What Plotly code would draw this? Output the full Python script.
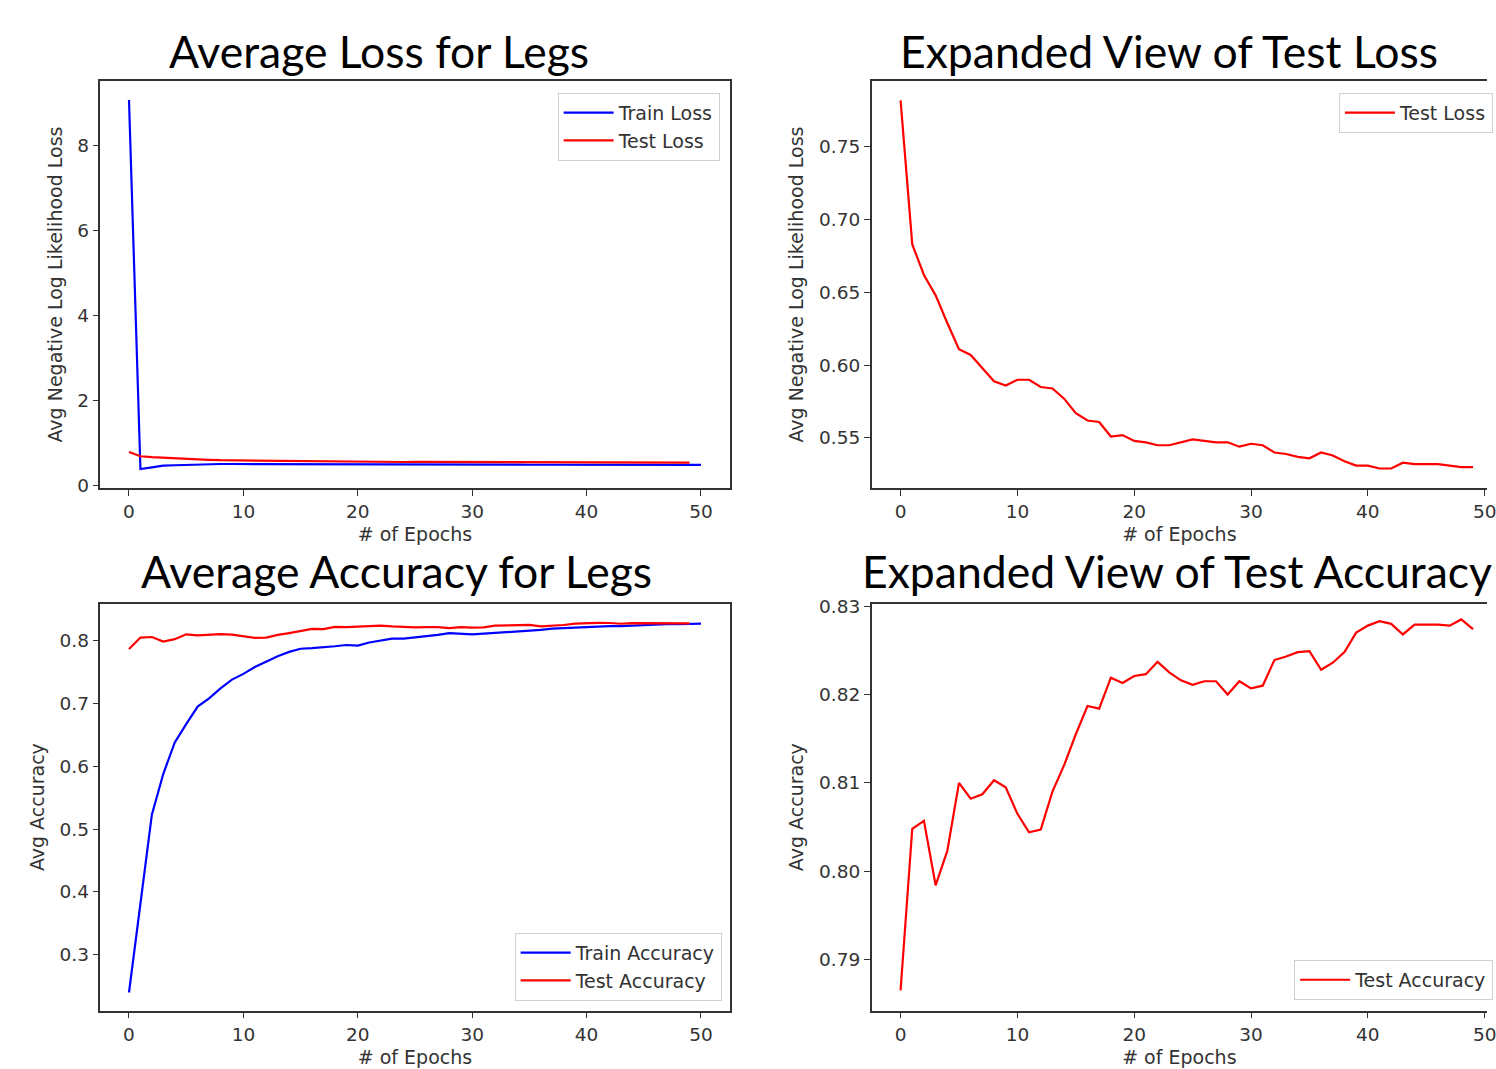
import plotly.graph_objects as go

W, H = 1496, 1069

epochs_train = list(range(51))
epochs_test = list(range(50))

train_loss = [9.08, 0.38, 0.42, 0.46, 0.47, 0.48, 0.49, 0.495, 0.50, 0.50,
              0.50, 0.50, 0.495, 0.495, 0.49, 0.49, 0.49, 0.49, 0.49, 0.49,
              0.49, 0.488, 0.488, 0.487, 0.487, 0.486, 0.486, 0.486, 0.485, 0.485,
              0.485, 0.484, 0.484, 0.483, 0.483, 0.482, 0.482, 0.481, 0.481, 0.480,
              0.480, 0.480, 0.479, 0.479, 0.479, 0.478, 0.478, 0.478, 0.477, 0.477, 0.477]

test_loss = [0.782, 0.683, 0.662, 0.648, 0.629, 0.611, 0.607, 0.598, 0.589, 0.586,
             0.590, 0.590, 0.585, 0.584, 0.577, 0.567, 0.562, 0.561, 0.551, 0.552,
             0.548, 0.547, 0.545, 0.545, 0.547, 0.549, 0.548, 0.547, 0.547, 0.544,
             0.546, 0.545, 0.540, 0.539, 0.537, 0.536, 0.540, 0.538, 0.534, 0.531,
             0.531, 0.529, 0.529, 0.533, 0.532, 0.532, 0.532, 0.531, 0.530, 0.530]

train_acc = [0.240, 0.381, 0.523, 0.588, 0.638, 0.667, 0.695, 0.708, 0.724, 0.738,
             0.747, 0.758, 0.767, 0.775, 0.782, 0.787, 0.788, 0.789, 0.791, 0.793,
             0.792, 0.797, 0.800, 0.803, 0.803, 0.805, 0.806, 0.809, 0.812, 0.811,
             0.810, 0.811, 0.812, 0.814, 0.814, 0.816, 0.817, 0.819, 0.820, 0.821,
             0.822, 0.822, 0.823, 0.823, 0.824, 0.825, 0.826, 0.826, 0.826, 0.827, 0.827]

test_acc = [0.7865, 0.8048, 0.8057, 0.7984, 0.8023, 0.8100, 0.8082, 0.8087, 0.8103, 0.8095,
            0.8065, 0.8044, 0.8047, 0.8090, 0.8120, 0.8155, 0.8187, 0.8184, 0.8219, 0.8213,
            0.8221, 0.8223, 0.8237, 0.8225, 0.8216, 0.8211, 0.8215, 0.8215, 0.8200, 0.8215,
            0.8207, 0.8210, 0.8239, 0.8243, 0.8248, 0.8249, 0.8228, 0.8236, 0.8248, 0.8270,
            0.8278, 0.8283, 0.8280, 0.8268, 0.8279, 0.8279, 0.8279, 0.8278, 0.8285, 0.8274]

titles = ["Average Loss for Legs", "Expanded View of Test Loss",
          "Average Accuracy for Legs", "Expanded View of Test Accuracy"]
x_title = "# of Epochs"
loss_title = "Avg Negative Log Likelihood Loss"
acc_title = "Avg Accuracy"

BLUE = "#0000ff"
RED = "#ff0000"
AX = "#333333"
TICKFONT = dict(family="DejaVu Sans", size=18.5, color="#333333")
LABELFONT = dict(family="DejaVu Sans", size=19, color="#333333")
TITLEFONT = dict(family="Lato", size=44.5, color="#000000")


def px(x):
    return x / W


def py(y):
    return 1 - y / H


fig = go.Figure()

fig.add_trace(go.Scatter(x=epochs_train, y=train_loss, mode="lines", name="Train Loss",
                         line=dict(color=BLUE, width=2.2), xaxis="x", yaxis="y",
                         legend="legend", legendgroup="a"))
fig.add_trace(go.Scatter(x=epochs_test, y=test_loss, mode="lines", name="Test Loss",
                         line=dict(color=RED, width=2.2), xaxis="x", yaxis="y",
                         legend="legend", legendgroup="b"))
fig.add_trace(go.Scatter(x=epochs_test, y=test_loss, mode="lines", name="Test Loss",
                         line=dict(color=RED, width=2.2), xaxis="x2", yaxis="y2",
                         legend="legend2"))
fig.add_trace(go.Scatter(x=epochs_train, y=train_acc, mode="lines", name="Train Accuracy",
                         line=dict(color=BLUE, width=2.2), xaxis="x3", yaxis="y3",
                         legend="legend3", legendgroup="c"))
fig.add_trace(go.Scatter(x=epochs_test, y=test_acc, mode="lines", name="Test Accuracy",
                         line=dict(color=RED, width=2.2), xaxis="x3", yaxis="y3",
                         legend="legend3", legendgroup="d"))
fig.add_trace(go.Scatter(x=epochs_test, y=test_acc, mode="lines", name="Test Accuracy",
                         line=dict(color=RED, width=2.2), xaxis="x4", yaxis="y4",
                         legend="legend4"))


def xax(domain, rng, anchor, mirror=True):
    return dict(domain=domain, range=rng, anchor=anchor, tickvals=[0, 10, 20, 30, 40, 50],
                ticks="outside", ticklen=6, tickwidth=1.2, tickcolor=AX,
                showline=True, linecolor=AX, linewidth=1.5, mirror=mirror,
                showgrid=False, zeroline=False, tickfont=TICKFONT,
                ticklabeloverflow="allow",
                title=dict(text=x_title, font=LABELFONT, standoff=7))


def yax(domain, rng, anchor, tickvals, ticktext, title, mirror=True):
    return dict(domain=domain, range=rng, anchor=anchor, tickvals=tickvals, ticktext=ticktext,
                ticks="outside", ticklen=6, tickwidth=1.2, tickcolor=AX,
                showline=True, linecolor=AX, linewidth=1.5, mirror=mirror,
                showgrid=False, zeroline=False, tickfont=TICKFONT,
                title=dict(text=title, font=LABELFONT, standoff=10))


left_dom = [px(101), px(734)]
right_dom = [px(877), 1.0]
top_dom = [py(487), py(74)]
bot_dom = [py(1017), py(604)]

LEG = dict(bgcolor="white", bordercolor="#d0d0d0", borderwidth=1, font=LABELFONT,
           itemwidth=50, tracegroupgap=0)

fig.update_layout(
    width=W, height=H,
    margin=dict(l=0, r=0, t=0, b=0),
    paper_bgcolor="white", plot_bgcolor="white",
    xaxis=xax(left_dom, [-2.5, 52.5], "y"),
    yaxis=yax(top_dom, [-0.07, 9.53], "x", [0, 2, 4, 6, 8], ["0", "2", "4", "6", "8"], loss_title),
    xaxis2=xax(right_dom, [-2.47, 50.2], "y2"),
    yaxis2=yax(top_dom, [0.5155, 0.7953], "x2", [0.55, 0.60, 0.65, 0.70, 0.75],
               ["0.55", "0.60", "0.65", "0.70", "0.75"], loss_title, mirror=False),
    xaxis3=xax(left_dom, [-2.5, 52.5], "y3"),
    yaxis3=yax(bot_dom, [0.211, 0.859], "x3", [0.3, 0.4, 0.5, 0.6, 0.7, 0.8],
               ["0.3", "0.4", "0.5", "0.6", "0.7", "0.8"], acc_title),
    xaxis4=xax(right_dom, [-2.47, 50.2], "y4"),
    yaxis4=yax(bot_dom, [0.7842, 0.8303], "x4", [0.79, 0.80, 0.81, 0.82, 0.83],
               ["0.79", "0.80", "0.81", "0.82", "0.83"], acc_title, mirror=False),
    legend=dict(x=px(724), y=py(86), xanchor="right", yanchor="top", **LEG),
    legend2=dict(x=px(1347), y=py(86), xanchor="left", yanchor="top", **LEG),
    legend3=dict(x=px(726), y=py(1007), xanchor="right", yanchor="bottom", **LEG),
    legend4=dict(x=px(1302), y=py(1006), xanchor="left", yanchor="bottom", **LEG),
)

title_pos = [(168, 43), (903, 43), (140, 570), (865, 571)]
for t, (tx, ty) in zip(titles, title_pos):
    fig.add_annotation(text=t, x=px(tx), y=py(ty), xref="paper", yref="paper",
                       xanchor="left", yanchor="middle", showarrow=False,
                       font=TITLEFONT)

fig.write_html("out.html", config={"displayModeBar": False},
               post_script="document.body.style.margin='0px';document.body.style.overflow='hidden';")
